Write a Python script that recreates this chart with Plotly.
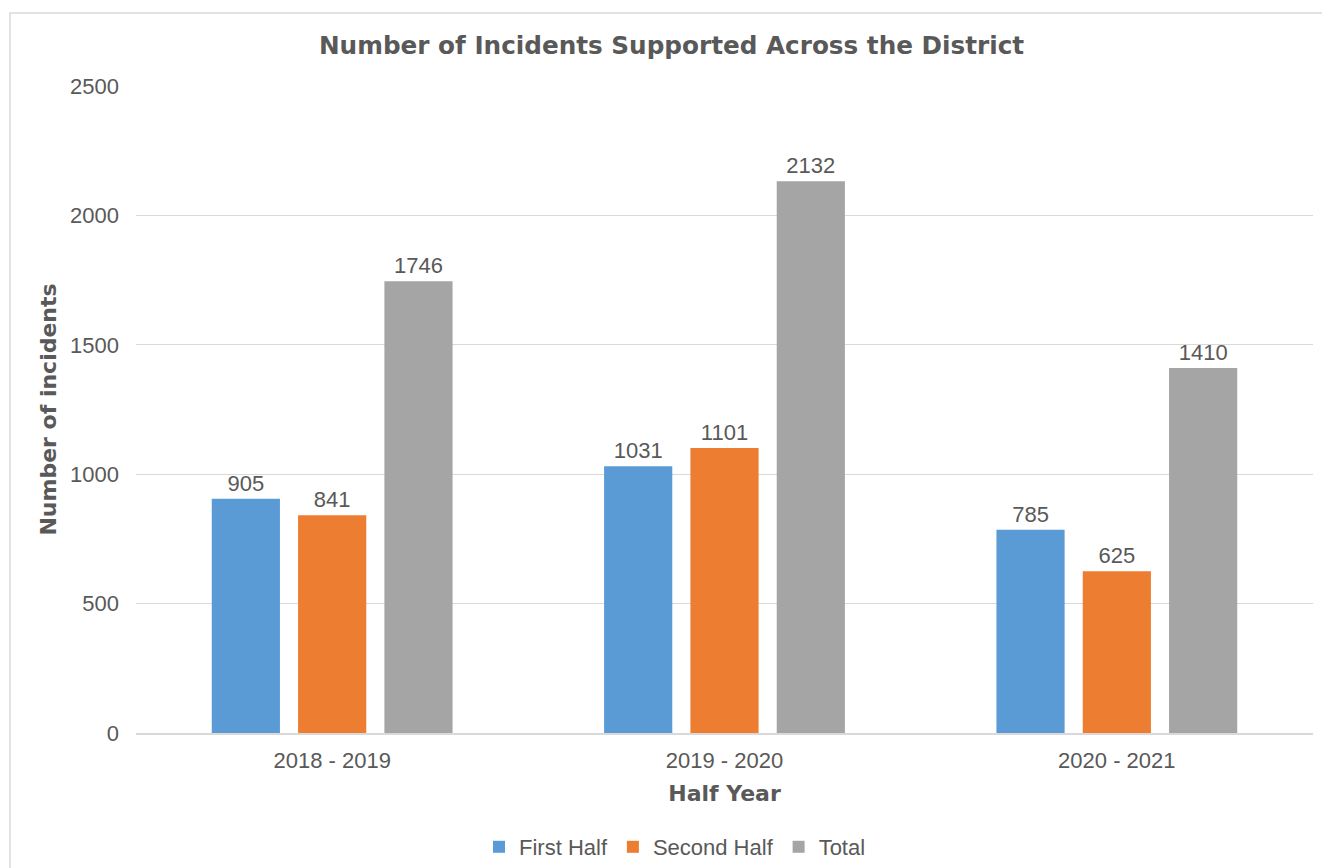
import plotly.graph_objects as go

# Incident counts per financial year, split into halves
years = ["2018 - 2019", "2019 - 2020", "2020 - 2021"]
first_half = [905, 1031, 785]
second_half = [841, 1101, 625]
total = [1746, 2132, 1410]

series = [
    ("First Half", first_half, "#5B9BD5"),
    ("Second Half", second_half, "#ED7D31"),
    ("Total", total, "#A5A5A5"),
]

TEXT = "#595959"
BASE_FONT = "Liberation Sans, Arial, sans-serif"
HEAVY_FONT = "DejaVu Sans, Liberation Sans, sans-serif"

fig = go.Figure()
for name, vals, col in series:
    fig.add_trace(go.Bar(
        x=years, y=vals, name=name,
        marker=dict(color=col, line=dict(width=0)),
        text=[str(v) for v in vals],
        textposition="outside",
        textfont=dict(size=22, color=TEXT, family=BASE_FONT),
        cliponaxis=False,
    ))

fig.update_layout(
    width=1322, height=868,
    margin=dict(l=136, r=9, t=86, b=135, autoexpand=False),
    paper_bgcolor="white", plot_bgcolor="white",
    barmode="group", bargap=0.34, bargroupgap=0.21,
    font=dict(family=BASE_FONT, color=TEXT, size=22),
    title=dict(
        text="<b>Number of Incidents Supported Across the District</b>",
        x=671.5 / 1322, xref="container", xanchor="center",
        y=1 - 45 / 868, yanchor="middle",
        font=dict(family=HEAVY_FONT, size=24.7, color=TEXT),
    ),
    xaxis=dict(
        showgrid=False, showline=True, linecolor="#D9D9D9", linewidth=1.5,
        tickfont=dict(size=22, color=TEXT), ticks="", ticklabelstandoff=7,
        title=dict(text="<b>Half Year</b>", font=dict(family=HEAVY_FONT, size=22, color=TEXT),
                   standoff=13),
    ),
    yaxis=dict(
        range=[0, 2500], tickvals=[0, 500, 1000, 1500, 2000, 2500],
        showgrid=True, gridcolor="#D9D9D9", gridwidth=1.3,
        zeroline=False, showline=False, ticks="",
        tickfont=dict(size=22, color=TEXT), ticklabelstandoff=16,
        title=dict(text="<b>Number of incidents</b>",
                   font=dict(family=HEAVY_FONT, size=22, color=TEXT), standoff=7),
    ),
    legend=dict(
        orientation="h", xref="container", x=675 / 1322, xanchor="center",
        y=-(847 - 733) / 647, yanchor="middle",
        font=dict(size=22, color=TEXT), itemwidth=30, traceorder="normal",
    ),
    showlegend=True,
    shapes=[dict(
        type="rect", xref="paper", yref="paper",
        x0=(10 - 136) / 1177, x1=(1340 - 136) / 1177,
        y0=(733 - 900) / 647, y1=(733 - 13) / 647,
        line=dict(color="#D9D9D9", width=1.5), fillcolor="rgba(0,0,0,0)", layer="below",
    )],
)

fig.write_html("out.html")
